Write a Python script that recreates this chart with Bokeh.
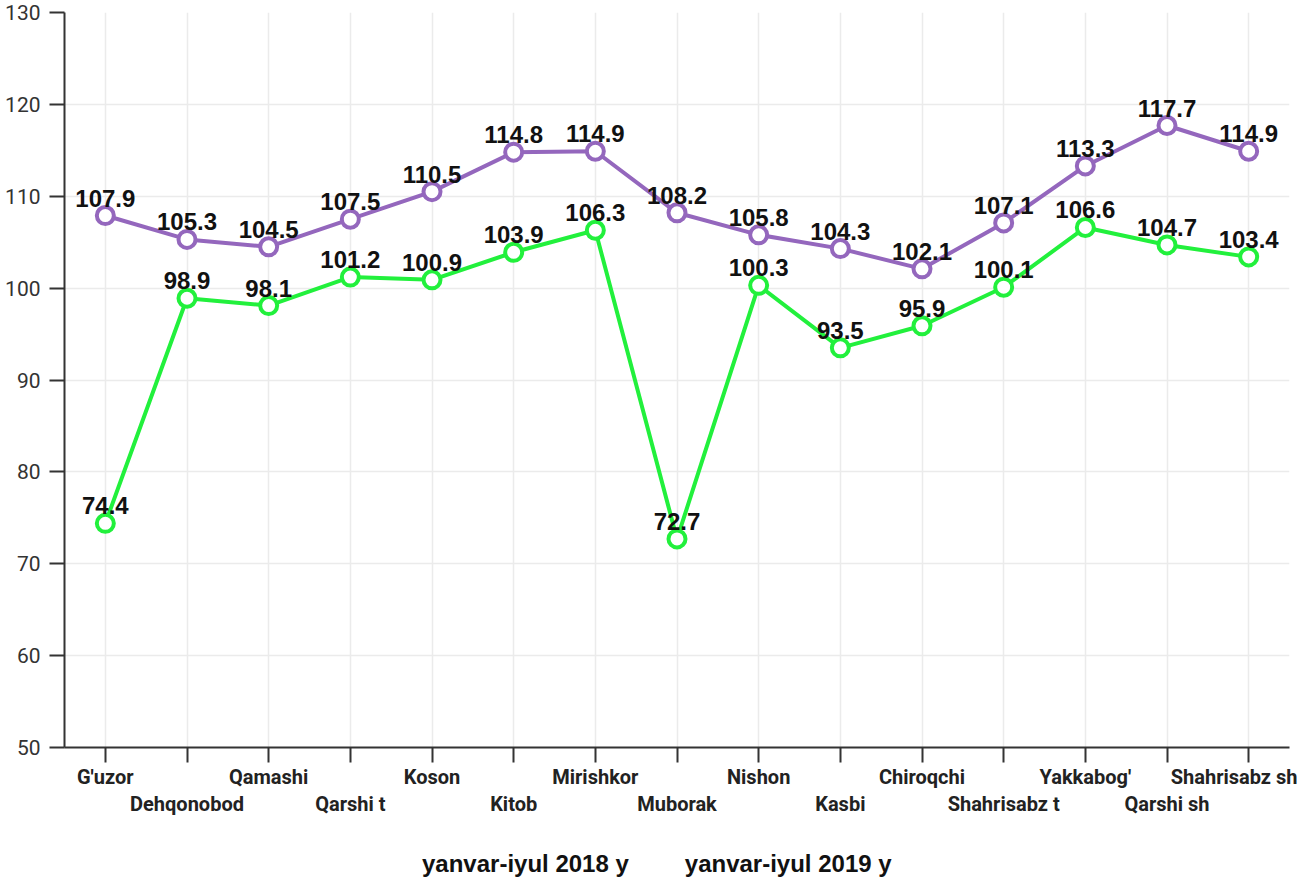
from bokeh.plotting import figure
from bokeh.layouts import column
from bokeh.models import Range1d, FixedTicker, LinearAxis, Legend, LegendItem, ColumnDataSource
from bokeh.embed import file_html
from bokeh.resources import INLINE

cats = ["G'uzor", "Dehqonobod", "Qamashi", "Qarshi t", "Koson", "Kitob", "Mirishkor",
        "Muborak", "Nishon", "Kasbi", "Chiroqchi", "Shahrisabz t", "Yakkabog'",
        "Qarshi sh", "Shahrisabz sh"]
y2018 = [74.4, 98.9, 98.1, 101.2, 100.9, 103.9, 106.3, 72.7, 100.3, 93.5, 95.9, 100.1, 106.6, 104.7, 103.4]
y2019 = [107.9, 105.3, 104.5, 107.5, 110.5, 114.8, 114.9, 108.2, 105.8, 104.3, 102.1, 107.1, 113.3, 117.7, 114.9]
series_names = ["yanvar-iyul 2018 y", "yanvar-iyul 2019 y"]
yticks = [50, 60, 70, 80, 90, 100, 110, 120, 130]

GREEN = "#22f03c"
PURPLE = "#9467bd"
colors = [GREEN, PURPLE]

xs = list(range(len(cats)))

p = figure(width=1297, height=830, output_backend="svg", toolbar_location=None,
           x_range=Range1d(-0.5, len(cats) - 0.5), y_range=Range1d(50, 130),
           min_border_left=64, min_border_right=8, min_border_top=12, min_border_bottom=83)
p.outline_line_color = None
p.background_fill_color = "white"

# grids
p.xgrid.ticker = FixedTicker(ticks=xs)
p.ygrid.ticker = FixedTicker(ticks=yticks)
p.xgrid.grid_line_color = "#ebebeb"
p.ygrid.grid_line_color = "#ebebeb"
p.xgrid.grid_line_width = 1.5
p.ygrid.grid_line_width = 1.5

# y axis
p.yaxis.ticker = FixedTicker(ticks=yticks)
p.yaxis.axis_line_color = "#333333"
p.yaxis.axis_line_width = 2
p.yaxis.major_tick_line_color = "#333333"
p.yaxis.major_tick_line_width = 2
p.yaxis.major_tick_out = 15
p.yaxis.major_tick_in = 0
p.yaxis.minor_tick_line_color = None
p.yaxis.major_label_standoff = 9
p.yaxis.major_label_text_font = "Roboto"
p.yaxis.major_label_text_font_size = "21px"
p.yaxis.major_label_text_color = "#333333"

# x axis row 1 (even categories)
xa = p.xaxis[0]
xa.ticker = FixedTicker(ticks=xs)
xa.major_label_overrides = {i: (cats[i] if i % 2 == 0 else "") for i in xs}
xa.axis_line_color = "#333333"
xa.axis_line_width = 2
xa.major_tick_line_color = "#333333"
xa.major_tick_line_width = 2
xa.major_tick_out = 15
xa.major_tick_in = 0
xa.minor_tick_line_color = None
xa.major_label_standoff = 2
xa.major_label_text_font = "Roboto"
xa.major_label_text_font_style = "bold"
xa.major_label_text_font_size = "20px"
xa.major_label_text_color = "#222222"

# x axis row 2 (odd categories)
xb = LinearAxis(ticker=FixedTicker(ticks=[i for i in xs if i % 2 == 1]))
xb.major_label_overrides = {i: cats[i] for i in xs if i % 2 == 1}
xb.axis_line_color = None
xb.major_tick_line_color = None
xb.minor_tick_line_color = None
xb.major_tick_out = 0
xb.major_tick_in = 0
xb.major_label_standoff = 0
xb.major_label_text_font = "Roboto"
xb.major_label_text_font_style = "bold"
xb.major_label_text_font_size = "20px"
xb.major_label_text_color = "#222222"
p.add_layout(xb, "below")

for vals, col in zip((y2018, y2019), colors):
    src = ColumnDataSource(dict(x=xs, y=vals))
    p.line("x", "y", source=src, line_color=col, line_width=4)
    p.scatter("x", "y", source=src, size=17, line_color=col, line_width=4,
              fill_color="white")

for vals in (y2018, y2019):
    src = ColumnDataSource(dict(x=xs, y=vals, lab=[f"{v:.1f}" for v in vals]))
    p.text("x", "y", text="lab", source=src, text_align="center", text_baseline="bottom",
           y_offset=-9, text_font={"value": "Liberation Sans"}, text_font_style="bold",
           text_font_size="24px", text_color="#111111")

# legend strip below the chart
lg = figure(width=1297, height=49, output_backend="svg", toolbar_location=None,
            x_range=Range1d(0, 1), y_range=Range1d(0, 1),
            x_axis_location=None, y_axis_location=None,
            min_border_left=0, min_border_right=0, min_border_top=0, min_border_bottom=0)
lg.outline_line_color = None
lg.xgrid.visible = False
lg.ygrid.visible = False
items = []
for name, col in zip(series_names, colors):
    r = lg.scatter(x=[], y=[], size=17, line_color=col, line_width=4, fill_color="white")
    items.append(LegendItem(label=name, renderers=[r]))

legend = Legend(items=items, orientation="horizontal", location=(330, 1))
legend.label_text_font = "Liberation Sans"
legend.label_text_font_style = "bold"
legend.label_text_font_size = "24px"
legend.label_text_color = "#111111"
legend.border_line_color = None
legend.background_fill_alpha = 0
legend.spacing = 28
legend.label_standoff = 6
legend.glyph_width = 22
legend.glyph_height = 22
legend.padding = 2
legend.margin = 0
lg.add_layout(legend, "center")

layout = column(p, lg, spacing=0)
open("out.html", "w").write(file_html(layout, INLINE))
